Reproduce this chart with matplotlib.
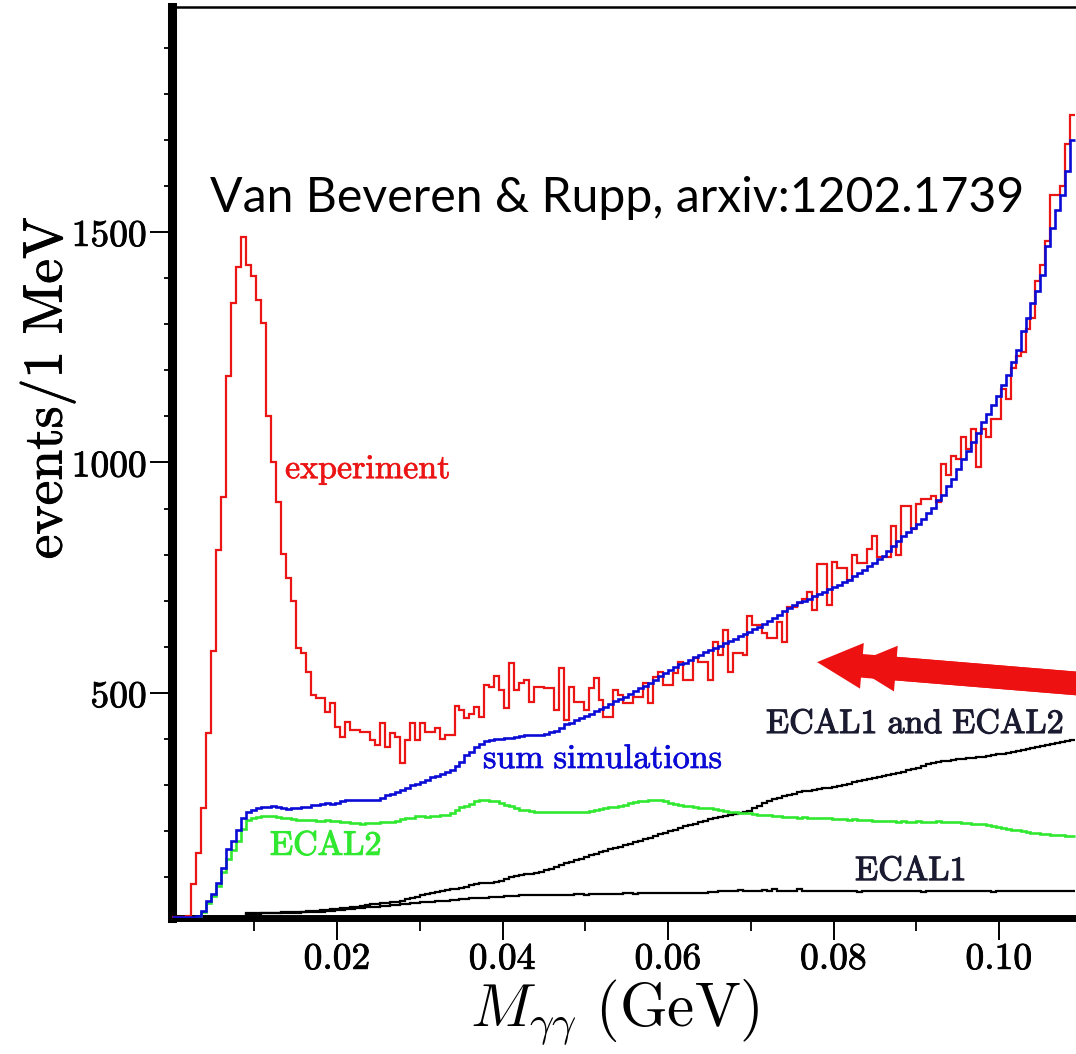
"""Diphoton invariant-mass spectrum: experiment vs ECAL simulations."""

import matplotlib
import numpy as np

matplotlib.use("Agg")
from matplotlib import patheffects
from matplotlib import pyplot as plt

plt.rcParams["mathtext.fontset"] = "cm"

# 0.6 MeV bins starting at 0 GeV
BIN_WIDTH = 0.0006

experiment = [
    14, 14, 14, 16,
    86, 154, 250, 413, 591, 811,
    925, 1188, 1345, 1424, 1489, 1428, 1404, 1352, 1302, 1100,
    1000, 914, 801, 750, 700, 598, 587, 546, 496, 489,
    489, 459, 478, 426, 404, 437, 420, 420, 415, 415,
    398, 387, 435, 382, 413, 404, 348, 398, 435, 398,
    435, 415, 415, 424, 400, 408, 408, 472, 463, 446,
    455, 470, 448, 517, 513, 537, 507, 467, 565, 507,
    522, 528, 480, 513, 513, 510,
    511, 463, 554, 441,
    513, 480, 480, 463, 511, 533, 485, 448, 448, 507,
    496, 478, 478, 491, 491, 522, 478, 535, 546, 517,
    517, 544, 568, 528, 528, 576, 568, 568, 528, 611,
    583, 637, 546, 587, 587, 583, 666, 648, 648, 630,
    620, 620, 655, 611, 687, 687, 696, 703,
    720, 681, 779, 779, 690, 785, 772, 772, 746, 800, 783, 783,
    812, 840, 794, 794, 794, 862, 800, 905, 905, 855,
    910, 920, 920, 927, 914, 997, 973, 1014, 1007, 1056,
    1029, 1073, 990, 1073, 1056, 1095, 1095, 1160, 1138, 1204,
    1230, 1240, 1290, 1313, 1393, 1428, 1480, 1581, 1581, 1600, 1690, 1753,
]

sum_simulations = [
    14, 14, 14, 14, 14,
    16, 27, 49, 64, 88,
    121, 162, 180, 202, 230, 241, 247, 250,
    252, 252, 255, 252, 250, 248, 250, 250, 252, 253,
    258, 258, 260, 262, 260, 262,
    265, 267, 267, 268, 267, 268, 268, 268,
    272, 278, 282, 285, 290,
    295, 300, 303, 307,
    312, 317, 320,
    325, 328, 333,
    342, 350, 365,
    372, 382, 390,
    396, 398, 400, 400, 402, 403, 405,
    406, 408, 408, 410, 410, 412,
    415, 418, 425, 432, 436,
    442, 446, 450, 455, 460, 465,
    470, 476, 482, 486, 492,
    498, 504, 510, 516, 522, 528,
    536, 544, 550, 556, 562, 566,
    572, 578, 583, 588, 593, 598,
    603, 608, 613, 618, 623, 628,
    633, 638, 644, 650, 657,
    663, 670, 677, 684, 690, 697,
    700, 705, 710, 715, 720,
    725, 730, 735, 740, 746, 753, 760, 767, 775, 783,
    790, 798, 808, 818, 830, 840, 850, 858, 866, 878,
    890, 902, 918, 930, 948, 965, 985, 1008, 1025, 1045,
    1065, 1088, 1105, 1125, 1145, 1167, 1190, 1219, 1245, 1285,
    1313, 1345, 1371, 1406, 1469, 1509, 1548, 1581, 1633, 1700,
]

ecal2 = [
    13, 13, 13, 13, 13,
    14, 25, 45, 60, 82, 112, 140, 160, 180, 205, 225,
    230, 232, 233, 233, 233, 231, 229, 228, 226, 225,
    225, 224, 225, 223, 223, 224, 222, 223, 221, 220,
    218, 218, 217, 218, 218, 219, 220, 220, 221, 222,
    226, 229, 230, 233, 233, 232, 234, 233, 235, 236,
    240, 246, 252, 256, 260, 265, 268, 268, 266, 266,
    262, 258, 255, 250, 247, 246, 244, 243, 242, 242,
    243, 242, 241, 242, 242, 241, 243, 243, 245, 247,
    249, 250, 252, 252, 254, 258, 262, 264, 265, 266,
    268, 267, 268, 266, 262, 259, 257, 256, 255, 253,
    251, 250, 250, 248, 246, 244, 242, 241, 240, 239,
    240, 238, 236, 235, 236, 234, 233, 232, 231, 231,
    230, 231, 229, 229, 228, 228, 229, 227, 226, 227,
    225, 226, 224, 225, 224, 223, 223, 222, 223, 222,
    221, 222, 221, 220, 222, 221, 221, 220, 222, 221,
    220, 221, 220, 219, 218, 217, 216, 215, 213, 211,
    209, 207, 206, 204, 202, 200, 199, 197, 196, 195,
    194, 193, 192, 192, 191, 190,
]

ecal1_and_ecal2 = [
    0, 0, 0, 0, 0, 0, 0, 0, 0, 0, 0, 0, 0, 0, 0,
    22, 23, 23, 24, 23, 24, 24,
    25, 25, 26, 25, 26, 27, 27,
    28, 29, 30, 31, 32, 33, 34,
    35, 36, 38, 40, 42, 43,
    44, 45, 46, 47,
    50, 53, 55, 57,
    62, 64, 66, 68,
    70, 72, 74, 76,
    78, 80, 83, 86,
    87, 88, 89, 90,
    93, 96, 100, 103,
    105, 107, 108, 110,
    112, 116, 119, 123,
    127, 131, 134, 138, 141, 144,
    148, 151, 155, 158, 161, 164,
    167, 170, 173, 176, 180, 183, 186, 190,
    194, 197, 201, 204, 208, 211, 214,
    217, 220, 223, 226, 229, 231,
    233, 235, 237, 239, 241,
    245, 250, 256, 262,
    266, 270, 273, 276, 279, 282, 285,
    287, 288, 290, 291, 293, 294, 296,
    298, 300, 303, 306, 309, 312,
    314, 316, 318, 320, 322, 324, 326,
    329, 332, 335, 338, 341, 345, 348,
    350, 352, 353, 355, 356, 357, 359,
    360, 361, 362, 364, 365, 367, 368, 370,
    372, 374, 376, 378, 380, 382, 385, 387,
    390, 392, 394, 396, 398,
]

ecal1 = [
    0, 0, 0, 0, 0, 0, 0, 0, 0, 0, 0, 0, 0, 0, 0,
    20, 21, 21, 22, 22, 22, 23,
    23, 24, 24, 24, 25, 25, 25,
    26, 26, 27, 28, 29, 30, 31,
    32, 33, 34, 35, 36, 37, 38, 39, 40,
    41, 42, 43, 44, 45, 46, 47, 47, 48, 49,
    50, 51, 52, 53, 54, 55, 55, 56,
    56, 57, 58, 58, 59, 60, 60,
    61, 61, 62, 62, 62, 62, 63, 62, 63, 63, 62,
    64, 64, 63, 64, 64, 65, 64, 64, 65, 64,
    66, 66, 65, 66, 66, 66, 67, 66, 66, 66,
    67, 66, 66, 66, 66, 67, 67, 68, 69, 70,
    71, 71, 71, 72, 71, 71, 71, 71, 72, 71, 76, 71, 71, 71, 71, 76, 71,
    71, 71, 71, 71, 70, 71, 71, 71, 71, 71,
    69, 71, 71, 71, 71, 71, 70, 71, 71, 71,
    71, 71, 71, 69, 71, 71, 71, 71, 71, 71,
    71, 70, 71, 71, 71, 71, 71, 69, 71, 71,
    71, 71, 71, 71, 71, 71, 70, 71, 71, 71,
    71, 71, 71, 71,
]

x_major = [0.02, 0.04, 0.06, 0.08, 0.10]
x_major_labels = ["$0.02$", "$0.04$", "$0.06$", "$0.08$", "$0.10$"]
x_minor = [0.01, 0.03, 0.05, 0.07, 0.09]
y_major = [500, 1000, 1500]
y_major_labels = ["$500$", "$1000$", "$1500$"]
y_minor = [100, 200, 300, 400, 600, 700, 800, 900, 1100, 1200, 1300, 1400,
           1600, 1700, 1800, 1900]

RED = "#ec1515"
BLUE = "#0b0bd6"
GREEN = "#30e830"
DARK = "#1a1a30"


def edges_for(values):
    return np.arange(len(values) + 1) * BIN_WIDTH


def heavy(color, width=0.7):
    return [patheffects.withStroke(linewidth=width, foreground=color)]


fig = plt.figure(figsize=(10.76, 10.54), dpi=100)
ax = fig.add_axes([0.1594, 0.1290, 0.8406, 0.8644])

ax.stairs(ecal1, edges_for(ecal1), baseline=None, color="black", linewidth=1.6,
          zorder=6)
ax.stairs(ecal1_and_ecal2, edges_for(ecal1_and_ecal2), baseline=None,
          color="black", linewidth=1.6, zorder=6)
ax.stairs(ecal2, edges_for(ecal2), baseline=None, color=GREEN, linewidth=1.9,
          zorder=6)
ax.stairs(experiment, edges_for(experiment), baseline=None, color=RED,
          linewidth=1.6, zorder=7)
ax.stairs(sum_simulations, edges_for(sum_simulations), baseline=None,
          color=BLUE, linewidth=1.9, zorder=8)

ax.set_xlim(0, 0.1093)
ax.set_ylim(12, 1988)

ax.set_xticks(x_major, labels=x_major_labels)
ax.set_xticks(x_minor, minor=True)
ax.set_yticks(y_major, labels=y_major_labels)
ax.set_yticks(y_minor, minor=True)
ax.tick_params(axis="both", which="both", direction="out", top=False, right=False)
ax.tick_params(axis="x", which="major", length=16, width=1.4, labelsize=27, pad=0.5)
ax.tick_params(axis="x", which="minor", length=9.4, width=1.3)
ax.tick_params(axis="y", which="major", length=15.5, width=1.4, labelsize=27, pad=2)
ax.tick_params(axis="y", which="minor", length=6, width=1.3)
for label in ax.get_xticklabels() + ax.get_yticklabels():
    label.set_path_effects(heavy("black", 0.6))

ax.spines["left"].set_linewidth(6.5)
ax.spines["bottom"].set_linewidth(5)
ax.spines["top"].set_linewidth(1.8)
ax.spines["right"].set_visible(False)

label_size = 24.5
ax.text(0.01372, 966, r"$\mathrm{experiment}$", color=RED, fontsize=label_size,
        ha="left", va="baseline", path_effects=heavy(RED, 0.5))
ax.text(0.03764, 337, r"$\mathrm{sum\ simulations}$", color=BLUE,
        fontsize=label_size, ha="left", va="baseline", path_effects=heavy(BLUE, 0.5))
ax.text(0.01190, 149, r"$\mathrm{ECAL2}$", color=GREEN, fontsize=label_size,
        ha="left", va="baseline", path_effects=heavy(GREEN, 0.8))
ax.text(0.07184, 413, r"$\mathrm{ECAL1\ and\ ECAL2}$", color=DARK,
        fontsize=label_size, ha="left", va="baseline", path_effects=heavy(DARK, 0.8))
ax.text(0.08260, 94, r"$\mathrm{ECAL1}$", color=DARK, fontsize=label_size,
        ha="left", va="baseline", path_effects=heavy(DARK, 0.8))

# double-headed red pointer coming in from the right edge
arrow_style = "simple,head_length=1.62,head_width=1.65,tail_width=0.85"
for tip in [(0.07801, 567), (0.08211, 561)]:
    ax.annotate(
        "",
        xy=tip,
        xytext=(0.11462, 513),
        arrowprops=dict(arrowstyle=arrow_style, mutation_scale=20, color="#ee1111",
                        lw=0, shrinkA=0, shrinkB=0),
        annotation_clip=False,
        zorder=9,
    )

fig.text(0.0437, 0.632, r"$\mathrm{events/1\ MeV}$", rotation=90, fontsize=40,
         ha="center", va="center", path_effects=heavy("black", 0.6))
fig.text(0.5716, 0.0398, r"$M_{\gamma\gamma}\ \mathrm{(GeV)}$", fontsize=44,
         ha="center", va="center")
fig.text(210 / 1076, 1 - 212 / 1054, "Van Beveren & Rupp, arxiv:1202.1739",
         fontfamily="Lato", fontsize=34.7, va="baseline", ha="left")

fig.savefig("out.png", dpi=100)
plt.close(fig)
